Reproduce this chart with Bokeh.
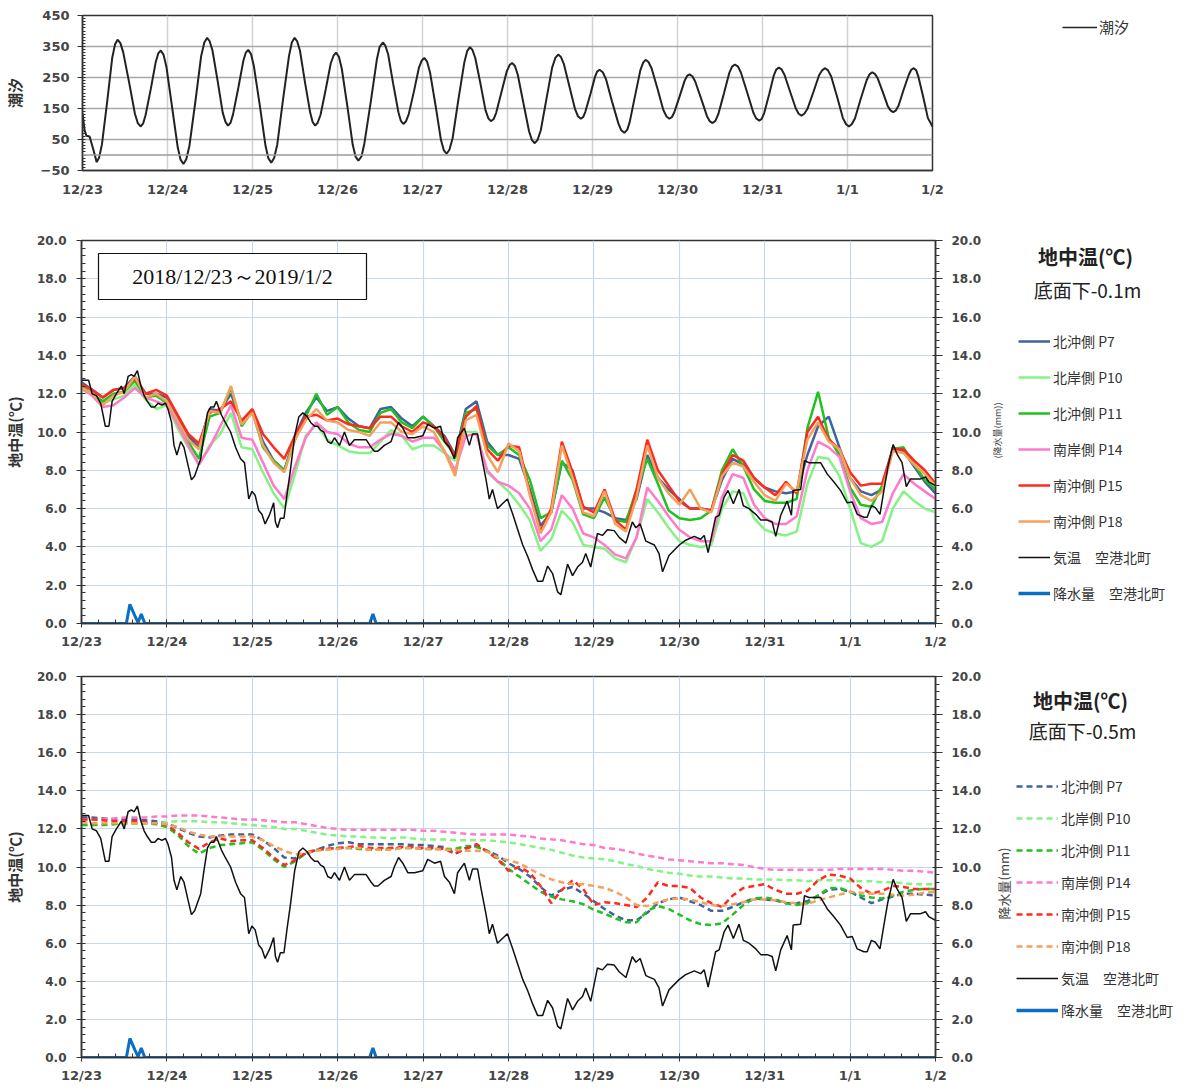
import numpy as np
from bokeh.plotting import figure
from bokeh.models import (Range1d, LinearAxis, FixedTicker, Span, Label, Legend, LegendItem,
                          BoxAnnotation, NumeralTickFormatter)
from bokeh.layouts import column, row
from bokeh.embed import file_html
from bokeh.resources import INLINE

# ---------------- data ----------------
day_labels = ["12/23", "12/24", "12/25", "12/26", "12/27", "12/28",
              "12/29", "12/30", "12/31", "1/1", "1/2"]

# tide (hours from 12/23 00:00, level)
tide_hours = [0, 0.6, 1.1, 2.0, 3.0, 4.0,
              4.7, 5.5, 7.0, 8.4, 9.2, 9.9,
              10.7, 11.5, 13.2, 14.8, 15.6, 16.4,
              17.1, 17.8, 19.3, 20.7, 21.4, 22.1,
              22.9, 23.7, 25.3, 26.9, 27.7, 28.5,
              29.3, 30.2, 31.9, 33.5, 34.4, 35.2,
              35.9, 36.7, 38.2, 39.6, 40.4, 41.1,
              41.8, 42.5, 44.0, 45.4, 46.1, 46.8,
              47.6, 48.4, 50.1, 51.7, 52.5, 53.3,
              54.1, 55.0, 56.6, 58.3, 59.1, 59.9,
              60.6, 61.4, 62.8, 64.3, 65.0, 65.7,
              66.4, 67.2, 68.7, 70.1, 70.9, 71.6,
              72.4, 73.2, 74.8, 76.3, 77.1, 77.9,
              78.8, 79.6, 81.4, 83.1, 83.9, 84.8,
              85.5, 86.3, 87.7, 89.2, 89.9, 90.6,
              91.3, 92.1, 93.6, 95.0, 95.8, 96.5,
              97.3, 98.1, 99.7, 101.2, 102.0, 102.8,
              103.6, 104.5, 106.1, 107.8, 108.6, 109.4,
              110.1, 110.9, 112.4, 113.8, 114.6, 115.3,
              116.1, 116.8, 118.3, 119.8, 120.6, 121.3,
              122.1, 122.9, 124.5, 126.1, 126.9, 127.7,
              128.5, 129.4, 131.0, 132.6, 133.5, 134.3,
              135.1, 135.9, 137.5, 139.1, 139.9, 140.7,
              141.4, 142.0, 143.4, 144.7, 145.3, 146.0,
              146.9, 147.8, 149.5, 151.3, 152.1, 153.0,
              153.8, 154.5, 156.0, 157.5, 158.3, 159.0,
              159.8, 160.7, 162.4, 164.0, 164.9, 165.7,
              166.4, 167.1, 168.6, 170.0, 170.7, 171.4,
              172.2, 173.0, 174.7, 176.3, 177.1, 177.9,
              178.7, 179.5, 181.1, 182.6, 183.4, 184.2,
              185.1, 185.9, 187.7, 189.4, 190.2, 191.1,
              191.8, 192.5, 193.9, 195.2, 195.9, 196.6,
              197.4, 198.2, 199.8, 201.4, 202.2, 203.0,
              203.8, 204.7, 206.4, 208.0, 208.9, 209.7,
              210.5, 211.4, 213.1, 214.7, 215.6, 216.4,
              217.2, 218.1, 219.7, 221.4, 222.2, 223.0,
              223.7, 224.5, 226.0, 227.4, 228.2, 228.9,
              229.6, 230.4, 231.8, 233.3, 234.0, 234.7,
              235.4, 236.0, 237.4, 238.7, 240.0]
tide_level = [134, 80, 62, 60, 20, -23,
              -8, 35, 175, 314, 357, 372,
              361, 331, 232, 133, 103, 92,
              101, 128, 214, 301, 328, 337,
              323, 284, 154, 24, -15, -29,
              -14, 30, 175, 319, 363, 378,
              367, 337, 236, 136, 106, 95,
              104, 131, 217, 303, 330, 339,
              325, 286, 157, 28, -11, -25,
              -10, 34, 177, 319, 363, 378,
              367, 337, 236, 136, 106, 95,
              104, 129, 213, 296, 321, 330,
              317, 279, 156, 33, -5, -18,
              -4, 38, 172, 307, 349, 363,
              353, 325, 231, 138, 110, 100,
              108, 131, 206, 282, 305, 313,
              301, 268, 159, 49, 16, 4,
              17, 54, 176, 298, 335, 348,
              339, 313, 228, 144, 118, 109,
              116, 136, 203, 270, 290, 297,
              287, 259, 167, 76, 48, 38,
              49, 80, 181, 282, 313, 324,
              316, 294, 220, 147, 125, 117,
              123, 140, 196, 252, 269, 275,
              267, 245, 173, 102, 80, 72,
              81, 106, 190, 273, 298, 307,
              300, 279, 212, 145, 124, 117,
              122, 138, 189, 239, 255, 260,
              254, 237, 181, 126, 109, 103,
              110, 131, 198, 264, 285, 292,
              285, 266, 201, 137, 118, 111,
              117, 136, 197, 257, 276, 282,
              276, 259, 204, 150, 133, 127,
              133, 149, 204, 258, 274, 280,
              273, 253, 186, 119, 99, 92,
              99, 118, 180, 241, 260, 267,
              262, 248, 202, 157, 143, 138,
              143, 159, 209, 259, 275, 280,
              273, 253, 186, 119, 92]

# soil temperature grid: every 3 hours
grid_hours = list(range(0, 241, 3))

# depth -0.1 m
m_p7 = [12.6, 12.2, 11.8, 12.2, 12.3, 12.9, 12.0, 12.0,
        11.8, 10.8, 9.8, 9.2, 11.2, 11.1, 12.0, 10.5,
        11.1, 9.5, 8.5, 8.0, 9.8, 11.0, 11.8, 11.1,
        11.3, 10.7, 10.3, 10.2, 11.2, 11.3, 10.7, 10.3,
        10.8, 10.3, 9.8, 8.8, 11.2, 11.6, 9.5, 8.8,
        8.8, 8.6, 7.0, 5.1, 5.8, 8.4, 8.0, 6.0,
        6.0, 5.8, 5.5, 5.4, 6.5, 8.8, 7.6, 7.0,
        6.5, 6.0, 6.0, 5.9, 7.5, 8.6, 8.3, 7.6,
        7.1, 6.9, 6.8, 6.9, 8.8, 10.3, 10.8, 9.2,
        7.6, 6.9, 6.7, 7.0, 9.2, 9.0, 8.2, 7.4,
        6.8]
m_p10 = [12.2, 12.0, 11.5, 11.7, 11.9, 12.5, 11.7, 11.2,
         11.4, 10.2, 9.2, 8.3, 9.3, 9.9, 11.0, 9.2,
         9.1, 7.9, 6.8, 6.0, 7.8, 9.8, 10.4, 9.6,
         9.3, 9.0, 8.9, 8.9, 9.5, 10.1, 9.8, 9.1,
         9.3, 9.3, 8.9, 8.5, 10.0, 10.0, 7.9, 7.4,
         6.9, 6.2, 5.4, 3.8, 4.4, 5.9, 5.3, 4.1,
         4.0, 3.9, 3.4, 3.2, 4.5, 6.5, 5.8, 5.0,
         4.3, 4.1, 4.0, 4.1, 6.0, 6.9, 6.8, 5.5,
         4.9, 4.7, 4.6, 4.8, 7.3, 8.7, 8.6, 7.7,
         6.0, 4.2, 4.0, 4.3, 6.0, 6.9, 6.4, 6.0,
         5.8]
m_p11 = [12.4, 12.0, 11.6, 12.0, 12.1, 12.7, 11.8, 11.9,
         11.5, 10.5, 9.5, 8.6, 10.8, 11.0, 12.3, 10.3,
         11.1, 9.2, 8.5, 8.0, 9.6, 10.8, 12.0, 10.9,
         11.3, 10.5, 10.1, 10.0, 11.0, 11.2, 10.5, 10.2,
         10.8, 10.3, 9.5, 8.8, 11.0, 11.2, 9.3, 8.8,
         9.2, 8.8, 7.5, 5.5, 5.8, 8.5, 7.5, 5.7,
         5.5, 6.6, 5.4, 5.3, 7.0, 8.6, 7.3, 5.9,
         5.5, 5.4, 5.5, 5.9, 8.0, 9.1, 8.2, 7.0,
         6.4, 6.3, 6.3, 6.5, 10.2, 12.1, 9.7, 8.8,
         7.1, 6.2, 6.1, 7.2, 9.1, 9.2, 8.3, 7.5,
         7.0]
m_p14 = [12.3, 11.9, 11.3, 11.4, 11.8, 12.3, 11.8, 11.6,
         11.4, 10.4, 9.3, 8.3, 9.2, 10.3, 11.4, 9.7,
         9.6, 8.4, 7.2, 6.5, 8.2, 9.7, 10.5, 10.0,
         9.9, 9.4, 9.2, 9.2, 9.6, 9.9, 9.8, 9.5,
         9.7, 9.7, 9.0, 8.0, 9.8, 9.9, 8.0, 7.4,
         7.2, 6.8, 6.0, 4.3, 4.9, 6.7, 6.0, 4.7,
         4.5, 4.1, 3.6, 3.4, 4.5, 7.1, 6.4, 5.6,
         4.9, 4.5, 4.3, 4.3, 6.6, 7.8, 7.6, 6.2,
         5.5, 5.2, 5.2, 5.6, 8.0, 9.5, 9.2, 8.7,
         6.9, 5.5, 5.2, 5.3, 6.8, 7.8, 7.3, 6.9,
         6.5]
m_p15 = [12.5, 12.2, 11.8, 12.2, 12.3, 12.8, 12.0, 12.2,
         11.9, 10.9, 9.9, 9.4, 11.0, 11.2, 11.6, 10.6,
         11.2, 9.9, 9.2, 8.6, 9.8, 10.8, 10.9, 10.6,
         10.7, 10.4, 10.3, 10.2, 10.8, 10.8, 10.3, 10.0,
         10.5, 10.3, 9.7, 8.7, 10.8, 11.35, 9.1, 8.5,
         9.3, 9.2, 6.8, 4.8, 6.0, 9.5, 7.9, 6.1,
         5.8, 7.0, 5.4, 4.9, 7.0, 9.6, 8.0, 7.2,
         6.4, 6.0, 6.0, 5.9, 7.8, 8.8, 8.5, 7.6,
         7.1, 6.7, 7.4, 6.8, 10.0, 10.8, 9.6, 9.1,
         7.9, 7.2, 7.3, 7.3, 9.1, 9.1, 8.5, 8.0,
         7.3]
m_p18 = [12.3, 12.0, 11.4, 11.9, 12.1, 12.9, 11.8, 12.0,
         11.6, 10.6, 9.6, 9.1, 11.1, 11.0, 12.4, 10.4,
         11.0, 9.3, 8.4, 7.9, 9.6, 10.6, 11.2, 10.6,
         10.5, 10.1, 10.0, 9.8, 10.5, 10.5, 10.0, 9.9,
         10.3, 10.0, 9.0, 7.7, 10.6, 10.9, 8.8, 7.9,
         9.4, 9.0, 6.7, 4.7, 5.8, 9.3, 7.6, 5.8,
         5.6, 6.9, 5.2, 4.8, 6.6, 9.3, 7.6, 6.8,
         6.2, 7.0, 6.0, 5.8, 7.7, 8.4, 8.2, 7.4,
         6.7, 6.4, 7.3, 6.9, 9.6, 10.5, 9.5, 9.1,
         7.6, 6.7, 6.4, 6.9, 9.0, 8.9, 8.3, 7.8,
         7.2]

# depth -0.5 m
b_p7 = [12.6, 12.6, 12.55, 12.5, 12.5, 12.5, 12.45, 12.4,
        12.3, 12.05, 11.8, 11.6, 11.55, 11.65, 11.7, 11.7,
        11.7, 11.4, 11.0, 10.5, 10.45, 10.7, 10.9, 11.1,
        11.25, 11.3, 11.2, 11.2, 11.2, 11.2, 11.2, 11.15,
        11.15, 11.1, 11.05, 10.7, 11.0, 11.1, 10.85, 10.6,
        10.2, 9.9, 9.5, 8.95, 8.5, 8.8, 8.95, 8.6,
        8.2, 7.8, 7.45, 7.2, 7.2, 7.6, 8.1, 8.3,
        8.4, 8.2, 8.0, 7.7, 7.7, 7.9, 8.15, 8.35,
        8.3, 8.25, 8.1, 8.1, 8.2, 8.5, 8.8, 8.85,
        8.7, 8.4, 8.1, 8.3, 8.45, 8.6, 8.6, 8.55,
        8.5]
b_p10 = [12.2, 12.2, 12.25, 12.25, 12.3, 12.3, 12.3, 12.3,
         12.35, 12.4, 12.4, 12.4, 12.35, 12.35, 12.3, 12.25,
         12.2, 12.15, 12.1, 12.0, 12.0, 11.9, 11.8, 11.7,
         11.65, 11.6, 11.6, 11.55, 11.55, 11.5, 11.55, 11.5,
         11.45, 11.45, 11.45, 11.4, 11.4, 11.4, 11.4, 11.35,
         11.3, 11.2, 11.1, 11.0, 10.9, 10.75, 10.6, 10.5,
         10.45, 10.4, 10.3, 10.15, 10.05, 9.9, 9.8, 9.7,
         9.65, 9.55, 9.5, 9.5, 9.45, 9.4, 9.4, 9.35,
         9.35, 9.35, 9.3, 9.3, 9.25, 9.3, 9.3, 9.3,
         9.25, 9.25, 9.25, 9.2, 9.2, 9.15, 9.1, 9.1,
         9.1]
b_p11 = [12.2, 12.2, 12.2, 12.25, 12.3, 12.3, 12.3, 12.25,
         12.1, 11.7, 11.1, 10.7, 11.0, 11.15, 11.2, 11.25,
         11.3, 10.9, 10.4, 10.0, 10.3, 10.7, 10.9, 10.95,
         11.0, 11.0, 10.95, 10.9, 10.9, 11.0, 11.0, 11.0,
         10.95, 10.95, 10.95, 10.95, 11.1, 11.05, 10.85, 10.45,
         9.9, 9.5, 9.1, 8.7, 8.45, 8.3, 8.2, 8.05,
         7.75, 7.55, 7.3, 7.1, 7.1, 7.7, 7.95, 7.8,
         7.5, 7.2, 7.0, 6.95, 7.05, 7.5, 8.0, 8.35,
         8.4, 8.3, 8.1, 8.0, 8.1, 8.5, 8.9, 8.9,
         8.7, 8.5, 8.4, 8.35, 8.5, 8.7, 8.8, 8.85,
         8.85]
b_p14 = [12.5, 12.5, 12.5, 12.55, 12.6, 12.6, 12.6, 12.65,
         12.65, 12.7, 12.7, 12.7, 12.65, 12.6, 12.55, 12.5,
         12.5, 12.45, 12.4, 12.35, 12.35, 12.25, 12.15, 12.05,
         12.0, 11.95, 11.95, 11.95, 11.95, 11.95, 11.95, 11.95,
         11.9, 11.9, 11.85, 11.8, 11.75, 11.7, 11.7, 11.7,
         11.7, 11.65, 11.6, 11.5, 11.45, 11.4, 11.3, 11.2,
         11.15, 11.0, 10.95, 10.85, 10.7, 10.6, 10.5, 10.4,
         10.35, 10.3, 10.25, 10.2, 10.2, 10.15, 10.1, 10.0,
         9.9, 9.85, 9.85, 9.85, 9.85, 9.85, 9.85, 9.9,
         9.9, 9.9, 9.9, 9.9, 9.85, 9.8, 9.8, 9.75,
         9.7]
b_p15 = [12.5, 12.5, 12.45, 12.4, 12.4, 12.4, 12.35, 12.3,
         12.2, 11.8, 11.3, 10.95, 11.3, 11.5, 11.35, 11.4,
         11.4, 11.0, 10.5, 10.1, 10.35, 10.75, 10.9, 10.95,
         11.0, 11.05, 11.1, 11.0, 11.0, 11.0, 11.05, 11.05,
         11.0, 11.0, 10.95, 10.7, 10.95, 11.2, 10.8, 10.4,
         9.8, 10.0, 9.7, 9.0, 8.1, 8.8, 9.3, 8.85,
         8.0, 8.15, 8.1, 8.0, 7.9, 8.4, 9.2, 9.0,
         9.0, 8.9, 8.4, 8.1, 7.9, 8.5, 8.9, 9.0,
         9.1, 8.8, 8.6, 8.6, 8.75, 9.3, 9.6, 9.55,
         9.4, 8.9, 8.6, 8.75, 9.0, 8.95, 8.85, 8.85,
         8.85]
b_p18 = [12.35, 12.3, 12.3, 12.3, 12.3, 12.3, 12.3, 12.3,
         12.25, 12.1, 11.85, 11.7, 11.6, 11.6, 11.6, 11.6,
         11.6, 11.4, 11.1, 10.85, 10.65, 10.75, 10.85, 10.9,
         10.95, 11.0, 11.0, 10.9, 10.9, 10.9, 11.0, 11.0,
         10.95, 10.95, 10.9, 10.9, 10.85, 10.85, 10.8, 10.5,
         10.35, 10.2, 9.9, 9.6, 9.35, 9.2, 9.1, 9.1,
         9.0, 8.9, 8.7, 8.4, 8.0, 7.95, 8.15, 8.3,
         8.35, 8.3, 8.15, 8.0, 7.95, 8.05, 8.15, 8.3,
         8.3, 8.25, 8.15, 8.1, 8.05, 8.25, 8.4, 8.55,
         8.7, 8.65, 8.6, 8.6, 8.55, 8.5, 8.55, 8.65,
         8.7]

# air temperature (空港北町)
air_hours = [0, 2, 3, 4.2, 5.4, 6.7, 7.7, 8.6, 9.8, 11.2, 12, 13.1, 14, 14.8, 15.7, 16.7,
             17.6, 18.5, 19.6, 20.6, 21.5, 22.6, 23.6, 24.3, 25.3, 26, 26.8, 27.9, 28.8,
             29.9, 30.9, 31.8, 33.5, 34.4, 35.4, 36.3, 37.2, 37.9, 38.5, 39.3, 40.4, 41.9,
             43.3, 44.7, 45.8, 47, 47.9, 48.8, 49.8, 50.7, 51.6, 52.9, 54, 54.5, 55.1, 55.9,
             56.9, 57.8, 58.7, 59.9, 61.1, 62.2, 63.4, 64.4, 65.5, 66.4, 67.2, 68.1, 69.2,
             70.2, 71.1, 72.5, 73.9, 75.3, 76.7, 78.1, 80, 81.4, 82.3, 83.3, 85.1, 87, 87.9,
             89.1, 90.3, 91.7, 93.6, 95.9, 97.3, 99.2, 100.9, 102, 103.4, 104.8, 105.7, 107.6,
             109, 109.9, 111.3, 112.3, 113.7, 114.6, 115.5, 116.9, 118.3, 119.7, 121.2, 122.6,
             124, 125.4, 126.8, 128.2, 129.6, 131, 132.4, 133.8, 134.7, 135.6, 136.6, 138,
             139.4, 140.8, 141.7, 143.1, 145, 146.4, 147.8, 149.7, 151.1, 153, 154.8, 155.8,
             157, 158.6, 161, 162.3, 163.3, 165.1, 168, 169.8, 172.2, 174, 175, 176.1, 178.2,
             179.2, 180.6, 181.7, 183.2, 184.8, 186, 187.6, 189.5, 190.9, 192.7, 194.1, 195.1,
             196.5, 198.3, 199.5, 200, 202.1, 203.2, 204.4, 205.8, 207.7, 209.6, 211.4, 213.3,
             215.2, 216.6, 218, 219.9, 220.8, 222, 223.1, 224.4, 225.5, 226.6, 228.1, 229.2,
             230.6, 231.8, 233, 235.8, 237.2, 238.1, 240]
air_temp = [12.7, 12.7, 12.0, 11.9, 11.5, 10.3, 10.3, 11.6, 12.0, 12.4, 12.0, 12.9, 13.0, 12.9, 13.2, 12.4,
            11.9, 11.6, 11.3, 11.3, 11.5, 11.4, 11.5, 11.2, 10.5, 9.3, 8.8, 9.5, 9.2,
            8.3, 7.5, 7.7, 8.6, 9.8, 11.0, 11.3, 11.3, 11.6, 11.3, 10.9, 10.5, 10.0,
            9.2, 8.6, 8.4, 6.5, 6.9, 6.7, 5.9, 5.7, 5.2, 5.7, 6.3, 5.3, 5.0, 5.5,
            5.5, 6.8, 8.0, 9.8, 10.8, 11.0, 10.8, 10.5, 10.3, 10.3, 10.1, 10.0, 9.5,
            9.4, 9.7, 9.3, 10.0, 9.3, 9.6, 9.6, 9.6, 9.2, 9.0, 9.0, 9.3, 9.5, 10.0,
            10.5, 10.2, 9.7, 9.7, 9.8, 10.4, 10.2, 10.3, 9.5, 9.2, 8.6, 9.7, 10.2,
            9.3, 9.9, 9.9, 8.85, 7.5, 6.5, 7.0, 6.0, 6.25, 6.5, 5.7, 4.9,
            4.1, 3.5, 2.8, 2.2, 2.2, 3.0, 2.6, 1.65, 1.5, 2.25, 3.1, 2.5,
            2.95, 3.2, 3.65, 2.95, 4.7, 4.6, 4.9, 4.85, 4.5, 4.2, 5.3, 5.0,
            5.2, 4.3, 4.1, 3.65, 2.7, 3.55, 4.1, 4.35, 4.55, 4.4, 4.6, 3.7, 5.55,
            5.65, 6.6, 6.95, 6.25, 7.0, 6.15, 6.0, 5.7, 5.4, 5.4, 5.3, 4.55,
            5.65, 6.4, 5.65, 6.95, 7.0, 8.5, 8.4, 8.4, 8.4, 7.8, 7.4, 6.95,
            6.3, 6.35, 5.7, 5.55, 5.55, 6.15, 6.05, 5.7, 6.95, 8.15, 9.35, 8.85,
            8.4, 7.15, 7.55, 7.55, 7.65, 7.4, 7.2]

# precipitation (空港北町, mm)
rain_hours = [0, 12.6, 13.6, 15.0, 15.9, 16.8, 17.8, 81.0, 81.9, 82.8, 240]
rain_mm = [0, 0, 1.0, 0.4, 0.05, 0.5, 0, 0, 0.5, 0, 0]

series_names = ["北沖側 P7", "北岸側 P10", "北沖側 P11", "南岸側 P14", "南沖側 P15", "南沖側 P18"]
series_colors = ["#3d649c", "#84f384", "#1fc21f", "#ff7acb", "#ff2a1e", "#f5a05c"]
air_name = "気温　空港北町"
rain_name = "降水量　空港北町"

# ---------------- helpers ----------------
MAIN_W = 990
SIDE_W = 200
FONT_JP = "Noto Sans CJK JP"
TICK_FONT = "DejaVu Sans"
NAN2 = [float("nan"), float("nan")]   # legend swatch proxies (draw nothing)


def to_days(hours):
    return [h / 24.0 for h in hours]


def style_axes(p, ysize="12px"):
    for ax in p.axis:
        ax.axis_line_color = "#333333"
        ax.axis_line_width = 1.5
        ax.major_tick_line_color = "#333333"
        ax.minor_tick_line_color = "#333333"
        ax.major_label_text_font = TICK_FONT
        ax.major_label_text_font_style = "bold"
        ax.major_label_text_color = "#454545"
        ax.axis_label_text_font = FONT_JP
        ax.axis_label_text_font_size = "15px"
        ax.axis_label_text_font_style = "bold"
        ax.axis_label_text_color = "#333333"
    for ax in p.xaxis:
        ax.major_label_text_font_size = "13px"
    for ax in p.yaxis:
        ax.major_label_text_font_size = ysize


def make_legend(items, loc, spacing, glyph_w=32, font_size="14px", standoff=3):
    lg = Legend(items=items, location=loc, orientation="vertical")
    lg.label_text_font = FONT_JP
    lg.label_text_font_size = font_size
    lg.label_text_color = "#333333"
    lg.glyph_width = glyph_w
    lg.glyph_height = 20
    lg.label_height = 20
    lg.spacing = spacing
    lg.padding = 0
    lg.margin = 0
    lg.border_line_alpha = 0
    lg.background_fill_alpha = 0
    lg.label_standoff = standoff
    return lg


def side_fig(height, top, bottom):
    s = figure(width=SIDE_W, height=height, x_range=Range1d(0, 1), y_range=Range1d(0, 1),
               x_axis_type=None, y_axis_type=None, output_backend="svg",
               toolbar_location=None, min_border_left=0, min_border_right=0,
               min_border_top=top, min_border_bottom=bottom)
    s.outline_line_color = None
    return s


day_ticks = list(range(len(day_labels)))
overrides = {i: lab for i, lab in enumerate(day_labels)}
temp_ticks = list(range(0, 21, 2))
temp_minor = [round(i * 0.4, 2) for i in range(51)]

# ---------------- row 1: tide ----------------
H1, T1, B1 = 215, 15, 45
p1 = figure(width=MAIN_W, height=H1, x_range=Range1d(0, 10), y_range=Range1d(-50, 450),
            output_backend="svg", toolbar_location=None,
            min_border_left=80, min_border_right=MAIN_W - 80 - 852,
            min_border_top=T1, min_border_bottom=B1)
p1.outline_line_color = "#333333"
p1.outline_line_width = 1.5
p1.xaxis.ticker = FixedTicker(ticks=day_ticks)
p1.xaxis.major_label_overrides = overrides
p1.xaxis.major_tick_out = 0
p1.xaxis.major_tick_in = 0
p1.xaxis.minor_tick_out = 0
p1.xaxis.major_label_standoff = 11
p1.yaxis.ticker = FixedTicker(ticks=[-50, 50, 150, 250, 350, 450],
                              minor_ticks=list(range(-50, 451, 10)))
p1.yaxis.major_tick_out = 5
p1.yaxis.major_tick_in = 0
p1.yaxis.minor_tick_in = 3
p1.yaxis.minor_tick_out = 0
p1.yaxis.major_label_standoff = 8
p1.yaxis.axis_label = "潮汐"
p1.yaxis.axis_label_standoff = 13
style_axes(p1, ysize="13px")
p1.xgrid.ticker = FixedTicker(ticks=day_ticks)
p1.xgrid.grid_line_color = "#d2d2d2"
p1.xgrid.grid_line_width = 1.5
p1.ygrid.ticker = FixedTicker(ticks=[50, 150, 250, 350])
p1.ygrid.grid_line_color = "#a8a8a8"
p1.ygrid.grid_line_width = 1.5
p1.add_layout(Span(location=0, dimension="width", line_color="#9a9a9a", line_width=1.5))
p1.line(to_days(tide_hours), tide_level, line_color="#222222", line_width=2)

s1 = side_fig(H1, T1, B1)
tide_proxy = s1.line(NAN2, NAN2, line_color="#222222", line_width=1.5)
# frame of s1 spans page y 15..170; legend bottom at page y 37
s1.add_layout(make_legend([LegendItem(label="潮汐", renderers=[tide_proxy])],
                          (72, 170 - 37), 0, glyph_w=35, font_size="15px", standoff=2))


# ---------------- rows 2/3: soil temperature ----------------
def soil_panel(height, top, bottom, series, dashed):
    p = figure(width=MAIN_W, height=height, x_range=Range1d(0, 10), y_range=Range1d(0, 20),
               output_backend="svg", toolbar_location=None,
               min_border_left=80, min_border_right=MAIN_W - 80 - 855,
               min_border_top=top, min_border_bottom=bottom)
    p.extra_y_ranges = {"rain": Range1d(0, 20)}
    p.add_layout(LinearAxis(y_range_name="rain"), "right")
    p.outline_line_color = "#333333"
    p.outline_line_width = 1.5
    p.xaxis.ticker = FixedTicker(ticks=day_ticks, minor_ticks=[round(i * 0.2, 2) for i in range(51)])
    p.xaxis.major_label_overrides = overrides
    p.xaxis.major_tick_out = 4
    p.xaxis.major_tick_in = 4
    p.xaxis.minor_tick_out = 0
    p.xaxis.minor_tick_in = 4
    p.xaxis.major_label_standoff = 6
    for ax in p.yaxis:
        ax.ticker = FixedTicker(ticks=temp_ticks, minor_ticks=temp_minor)
        ax.formatter = NumeralTickFormatter(format="0.0")
    left = p.left[0]
    left.major_tick_out = 5
    left.major_tick_in = 0
    left.minor_tick_in = 4
    left.minor_tick_out = 0
    left.major_label_standoff = 10
    left.axis_label = "地中温(℃)"
    left.axis_label_standoff = 9
    right = p.right[0]
    right.major_tick_out = 7
    right.major_tick_in = 3
    right.minor_tick_out = 4
    right.minor_tick_in = 0
    right.major_label_standoff = 9
    style_axes(p)
    p.xgrid.ticker = FixedTicker(ticks=day_ticks)
    p.ygrid.ticker = FixedTicker(ticks=temp_ticks)
    for g in (p.xgrid, p.ygrid):
        g.grid_line_color = "#c9d7eb"
        g.grid_line_width = 1.2

    x_grid = to_days(grid_hours)
    for color, vals in zip(series_colors, series):
        if dashed:
            p.line(x_grid, vals, line_color=color, line_width=2.5, line_dash="6 4")
        else:
            p.line(x_grid, vals, line_color=color, line_width=2.5)
    p.line(to_days(air_hours), air_temp, line_color="#111111", line_width=1.5)
    p.line(to_days(rain_hours), rain_mm, y_range_name="rain", line_color="#0a6fc2", line_width=3)
    return p


def soil_side(height, top, bottom, frame_bottom_y, dashed, title2, leg_x, leg_bottom_y,
              leg_spacing, glyph_w, tx, ty1, ty2, rain_label, rain_size, rx, ry):
    """All y arguments are page y positions; converted to frame-relative screen units."""
    s = side_fig(height, top, bottom)
    items = []
    for name, color in zip(series_names, series_colors):
        if dashed:
            r = s.line(NAN2, NAN2, line_color=color, line_width=2.5, line_dash="6 4")
        else:
            r = s.line(NAN2, NAN2, line_color=color, line_width=2.5)
        items.append(LegendItem(label=name, renderers=[r]))
    r_air = s.line(NAN2, NAN2, line_color="#111111", line_width=1.5)
    items.append(LegendItem(label=air_name, renderers=[r_air]))
    r_rain = s.line(NAN2, NAN2, line_color="#0a6fc2", line_width=3.5)
    items.append(LegendItem(label=rain_name, renderers=[r_rain]))
    s.add_layout(make_legend(items, (leg_x, frame_bottom_y - leg_bottom_y), leg_spacing,
                             glyph_w=glyph_w))
    s.add_layout(Label(x=tx, y=frame_bottom_y - ty1, x_units="screen", y_units="screen",
                       text="地中温(℃)", text_font=FONT_JP, text_font_size="20px",
                       text_font_style="bold", text_align="center", text_baseline="middle",
                       text_color="#222222"))
    s.add_layout(Label(x=tx + 2, y=frame_bottom_y - ty2, x_units="screen", y_units="screen",
                       text=title2, text_font=FONT_JP, text_font_size="19px",
                       text_align="center", text_baseline="middle", text_color="#222222"))
    s.add_layout(Label(x=rx, y=frame_bottom_y - ry, x_units="screen", y_units="screen",
                       text=rain_label, text_font=FONT_JP, text_font_size=rain_size,
                       angle=np.pi / 2, text_align="center", text_baseline="middle",
                       text_color="#444444"))
    return s


H2, T2, B2 = 436, 25, 26          # frame spans page y 240..625
p2 = soil_panel(H2, T2, B2, [m_p7, m_p10, m_p11, m_p14, m_p15, m_p18], False)
p2.add_layout(BoxAnnotation(left=17, right=285, top=370, bottom=324,
                            left_units="screen", right_units="screen",
                            top_units="screen", bottom_units="screen",
                            fill_color="white", fill_alpha=1.0,
                            line_color="#111111", line_width=1.2, line_alpha=1.0))
p2.add_layout(Label(x=151, y=347, x_units="screen", y_units="screen",
                    text="2018/12/23～2019/1/2", text_font="Liberation Serif",
                    text_font_size="22px", text_align="center", text_baseline="middle",
                    text_color="#111111"))
s2 = soil_side(H2, T2, B2, 625, False, "底面下-0.1m", 28, 605, 16, 32,
               95, 258, 291, "(降水量(mm))", "9px", 7, 432)

H3, T3, B3 = 434, 25, 25          # frame spans page y 676..1060
p3 = soil_panel(H3, T3, B3, [b_p7, b_p10, b_p11, b_p14, b_p15, b_p18], True)
s3 = soil_side(H3, T3, B3, 1060, True, "底面下-0.5m", 26, 1023, 12, 42,
               90, 703, 733, "降水量(mm)", "13px", 13, 886)

layout = column(row(p1, s1), row(p2, s2), row(p3, s3))
open("out.html", "w").write(file_html(layout, INLINE, title="地中温"))
